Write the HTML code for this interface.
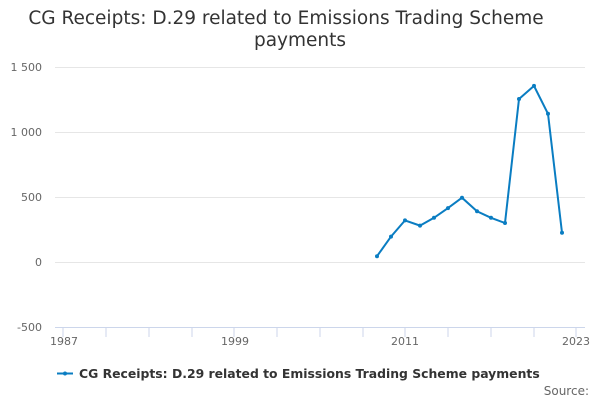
<!DOCTYPE html><html><head><style>body{margin:0;background:#fff}svg{font-family:"DejaVu Sans",sans-serif}</style></head><body>
<svg width="600" height="400" xmlns="http://www.w3.org/2000/svg">
<text x="286" y="24" text-anchor="middle" font-size="18.5" fill="#333">CG Receipts: D.29 related to Emissions Trading Scheme</text>
<text x="300" y="46" text-anchor="middle" font-size="18.5" fill="#333">payments</text>
<g stroke="#e6e6e6" stroke-width="1">
<line x1="55" x2="585" y1="67.5" y2="67.5"/><line x1="55" x2="585" y1="132.5" y2="132.5"/><line x1="55" x2="585" y1="197.5" y2="197.5"/><line x1="55" x2="585" y1="262.5" y2="262.5"/></g>
<line x1="55" x2="585" y1="327.5" y2="327.5" stroke="#ccd6eb"/>
<g stroke="#ccd6eb">
<line x1="63" x2="63" y1="327" y2="337"/><line x1="106" x2="106" y1="327" y2="337"/><line x1="149" x2="149" y1="327" y2="337"/><line x1="192" x2="192" y1="327" y2="337"/><line x1="234" x2="234" y1="327" y2="337"/><line x1="277" x2="277" y1="327" y2="337"/><line x1="320" x2="320" y1="327" y2="337"/><line x1="363" x2="363" y1="327" y2="337"/><line x1="405" x2="405" y1="327" y2="337"/><line x1="448" x2="448" y1="327" y2="337"/><line x1="491" x2="491" y1="327" y2="337"/><line x1="534" x2="534" y1="327" y2="337"/><line x1="576" x2="576" y1="327" y2="337"/></g>
<g font-size="11" fill="#666" text-anchor="end">
<text x="42" y="71">1 500</text><text x="42" y="136">1 000</text><text x="42" y="201">500</text><text x="42" y="266">0</text><text x="42" y="331">-500</text></g>
<g font-size="11" fill="#666" text-anchor="middle">
<text x="64" y="345">1987</text><text x="235" y="345">1999</text><text x="405" y="345">2011</text><text x="576" y="345">2023</text></g>
<polyline fill="none" stroke="#0a7dc2" stroke-width="2" points="377,256.2 391,236.6 405,220.4 420,225.6 434,217.8 448,208.1 462,197.7 477,211.3 491,217.8 505,223 519,99 534,85.9 548,113.8 562,232.8"/>
<g fill="#0a7dc2"><circle cx="377" cy="256.2" r="2"/><circle cx="391" cy="236.6" r="2"/><circle cx="405" cy="220.4" r="2"/><circle cx="420" cy="225.6" r="2"/><circle cx="434" cy="217.8" r="2"/><circle cx="448" cy="208.1" r="2"/><circle cx="462" cy="197.7" r="2"/><circle cx="477" cy="211.3" r="2"/><circle cx="491" cy="217.8" r="2"/><circle cx="505" cy="223" r="2"/><circle cx="519" cy="99" r="2"/><circle cx="534" cy="85.9" r="2"/><circle cx="548" cy="113.8" r="2"/><circle cx="562" cy="232.8" r="2"/></g>
<line x1="57" x2="73" y1="373.5" y2="373.5" stroke="#0a7dc2" stroke-width="2"/><circle cx="65" cy="373.5" r="2" fill="#0a7dc2"/>
<text x="79" y="378" font-size="12.4" font-weight="bold" fill="#333">CG Receipts: D.29 related to Emissions Trading Scheme payments</text>
<text x="589" y="395" font-size="12" fill="#666" text-anchor="end">Source:</text>
</svg></body></html>
